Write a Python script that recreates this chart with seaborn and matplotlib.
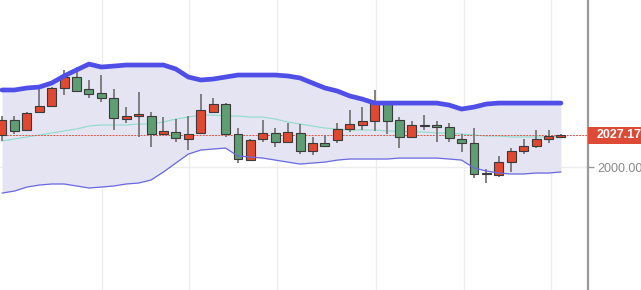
import matplotlib
matplotlib.use("Agg")
import matplotlib.pyplot as plt
import matplotlib.transforms as mtransforms
from matplotlib.patches import Rectangle
import numpy as np
import pandas as pd
import seaborn as sns

# ---------------- data ----------------
open_ = [2027.2, 2039.9, 2031.4, 2046.7, 2051.8, 2067.1, 2076.4, 2066.2, 2062.8, 2058.6,
         2040.8, 2043.3, 2043.3, 2028.0, 2029.7, 2023.8, 2028.9, 2046.7, 2053.5, 2028.0,
         2005.9, 2023.8, 2028.9, 2021.2, 2028.9, 2013.6, 2020.4, 2022.9, 2032.3, 2035.7,
         2039.1, 2054.3, 2039.9, 2025.5, 2035.7, 2035.7, 2034.0, 2023.8, 2020.4, 1994.1,
         1993.2, 2004.2, 2013.6, 2017.8, 2023.8, 2025.5]
high = [2043.3, 2043.3, 2046.5, 2067.1, 2068.0, 2082.4, 2084.9, 2073.9, 2078.1, 2066.2,
        2050.9, 2063.7, 2046.7, 2042.4, 2040.8, 2043.3, 2062.0, 2058.6, 2054.0, 2033.1,
        2023.5, 2039.9, 2033.1, 2037.4, 2036.5, 2025.5, 2027.2, 2037.4, 2048.4, 2050.9,
        2065.4, 2055.2, 2042.4, 2039.1, 2044.1, 2039.1, 2037.4, 2028.0, 2033.1, 1998.3,
        2009.3, 2016.1, 2023.8, 2031.4, 2031.4, 2028.0]
low = [2022.1, 2028.0, 2030.6, 2045.8, 2051.0, 2061.1, 2064.0, 2058.6, 2055.2, 2031.4,
       2037.4, 2025.5, 2017.0, 2027.2, 2021.2, 2014.4, 2028.0, 2045.8, 2025.5, 2003.4,
       2005.2, 2021.2, 2017.0, 2020.4, 2011.0, 2010.2, 2017.0, 2020.4, 2029.7, 2031.4,
       2030.6, 2028.0, 2016.1, 2024.6, 2031.4, 2021.2, 2021.2, 2012.7, 1990.7, 1986.4,
       1991.5, 1995.8, 2011.0, 2016.1, 2020.4, 2025.0]
close = [2039.9, 2030.6, 2045.8, 2051.8, 2067.1, 2076.4, 2064.5, 2062.0, 2058.6, 2041.6,
         2043.3, 2045.0, 2028.0, 2030.6, 2024.6, 2028.0, 2048.4, 2053.5, 2028.0, 2006.8,
         2022.9, 2028.9, 2021.2, 2029.7, 2013.6, 2020.4, 2017.8, 2032.3, 2036.5, 2039.1,
         2054.3, 2039.1, 2025.5, 2035.7, 2034.8, 2034.0, 2024.6, 2020.4, 1994.1, 1993.7,
         2004.2, 2013.6, 2017.8, 2023.8, 2026.3, 2027.17]
upper = [2065.4, 2065.4, 2067.1, 2067.9, 2071.3, 2077.3, 2082.4, 2087.4, 2084.9, 2085.7,
         2086.6, 2086.6, 2086.6, 2086.6, 2083.2, 2076.4, 2073.9, 2074.7, 2076.4, 2078.1,
         2078.1, 2078.1, 2078.1, 2077.3, 2075.6, 2071.3, 2067.1, 2064.5, 2060.3, 2057.7,
         2054.3, 2054.3, 2054.3, 2054.3, 2054.3, 2054.3, 2052.6, 2049.2, 2050.9, 2053.5,
         2054.3, 2054.3, 2054.3, 2054.3, 2054.3, 2054.3]
middle = [2022.1, 2023.8, 2025.5, 2027.2, 2028.9, 2030.6, 2032.3, 2034.8, 2035.7, 2035.7,
          2035.7, 2036.5, 2036.5, 2038.2, 2040.8, 2042.4, 2044.1, 2044.1, 2043.3, 2043.3,
          2042.4, 2042.4, 2040.8, 2038.2, 2036.5, 2034.8, 2033.1, 2032.3, 2031.4, 2031.4,
          2031.4, 2030.6, 2030.6, 2029.7, 2029.7, 2028.9, 2028.9, 2028.0, 2027.2, 2026.3,
          2026.3, 2025.5, 2025.5, 2025.5, 2025.5, 2026.3]
lower = [1977.9, 1979.6, 1983.0, 1984.7, 1985.6, 1985.6, 1983.9, 1982.2, 1983.0, 1983.9,
         1985.6, 1986.4, 1989.0, 1995.8, 2003.4, 2011.0, 2014.4, 2015.3, 2016.1, 2009.3,
         2008.5, 2007.6, 2005.9, 2004.2, 2002.5, 2003.4, 2004.2, 2005.9, 2006.8, 2006.8,
         2006.8, 2006.8, 2007.6, 2007.6, 2007.6, 2007.6, 2006.8, 2005.9, 1999.2, 1996.6,
         1994.9, 1994.1, 1994.1, 1994.9, 1994.9, 1995.8]
last_price = 2027.17
y_ticks = [2000]
y_tick_labels = ["2000.00"]
grid_x = [8.05, 15.05, 22.15, 30.1, 37.2, 44.2]

# ---------------- figure ----------------
sns.set_theme(style="white")
plt.rcParams['font.family'] = ['Liberation Sans', 'DejaVu Sans']

df = pd.DataFrame({"i": np.arange(len(close)), "open": open_, "high": high, "low": low,
                   "close": close, "upper": upper, "middle": middle, "lower": lower})

fig = plt.figure(figsize=(6.41, 2.90), dpi=100)
ax = fig.add_axes([0, 0, 588 / 641, 1])

ax.fill_between(df["i"], df["lower"], df["upper"], color="#e4e4f3", lw=0, zorder=1)
sns.lineplot(data=df, x="i", y="middle", color="#8fdcca", lw=0.8, ax=ax, zorder=2)
ax.axhline(last_price, color="#e05545", lw=0.7, ls=(0, (2, 1.2)), zorder=2)

up = df["close"] >= df["open"]
ax.vlines(df["i"], df["low"], df["high"], color="#777777", lw=1.3, zorder=3)
body_bot = np.minimum(df["open"], df["close"])
body_h = np.maximum(np.abs(df["close"] - df["open"]), 1.3)
ax.bar(df["i"], body_h, bottom=body_bot, width=0.72,
       color=np.where(up, "#e0492f", "#5f9e72"), edgecolor="#3a3a3a", lw=0.8, zorder=4)

sns.lineplot(data=df, x="i", y="upper", color="#4f4fe8", lw=3.4, ax=ax, zorder=5)
sns.lineplot(data=df, x="i", y="lower", color="#6a6ae0", lw=0.9, ax=ax, zorder=5)

ax.set_xlim(-0.16, 47.18)
ax.set_ylim(1895.6, 2141.8)
ax.set_xlabel("")
ax.set_ylabel("")

ax.set_xticks(grid_x)
ax.tick_params(axis="x", length=0, labelbottom=False)
ax.grid(True, axis="both", color="#ececec", lw=1.0, zorder=0)
ax.set_axisbelow(True)

ax.yaxis.tick_right()
ax.set_yticks(y_ticks)
ax.set_yticklabels(y_tick_labels)
ax.tick_params(axis="y", right=True, left=False, length=4, width=1, color="#999999",
               labelcolor="#8a8a8a", labelsize=9, pad=3)

for s in ["top", "left", "bottom"]:
    ax.spines[s].set_visible(False)
ax.spines["right"].set_color("#999999")
ax.spines["right"].set_linewidth(1.6)

trans = mtransforms.blended_transform_factory(ax.transAxes, ax.transData)
ax.add_patch(Rectangle((1.0, last_price - 7.2), 0.2, 14.4, transform=trans,
                       facecolor="#dd4a35", edgecolor="none", clip_on=False, zorder=6))
ax.text(1.0 + 9 / 588, last_price, f"{last_price:.2f}", transform=trans, color="white",
        fontsize=9, fontweight="bold", va="center", ha="left", zorder=7, clip_on=False)

fig.savefig("out.png", dpi=100)
